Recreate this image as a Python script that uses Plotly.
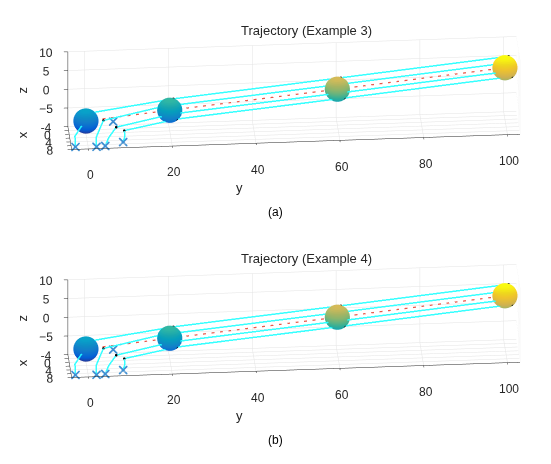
import numpy as np
import plotly.graph_objects as go

# reference path: sphere centres along the route
ref_x = [0.0, 0.0, 0.0, 0.0]
ref_y = [0.0, 20.0, 60.0, 100.0]
ref_z = [-6.6, -4.5, -0.4, 3.8]
sphere_r = 3.0
color_lim = [-9.6, 6.8]

# formation offsets of the four agents around the centre
off_x = [-2.0, 0.0, 2.0, 2.0]
off_y = [1.0, -2.0, 0.5, 1.5]
off_z = [2.0, 1.0, 0.0, -1.4]

# start positions (blue crosses) and the climb up to the formation
start_x = [6.7, 7.0, 6.7, 5.0]
start_y = [-3.0, 2.0, 4.1, 8.5]
start_z = [-10.0, -10.0, -10.0, -10.0]
climb_x = [[5.0, 0.0], [6.0, 2.0], [5.5, 3.0], [4.0, 2.0]]
climb_y = [[-3.0, 1.0], [2.0, 4.0], [5.0, 7.0], [9.0, 9.0]]
climb_z = [[-8.0, -4.5], [-8.0, -5.6], [-8.5, -7.0], [-9.0, -8.5]]

# extra cross near the start of the route
extra_x = [0.0]
extra_y = [6.5]
extra_z = [-7.0]

y_ticks = [0, 20, 40, 60, 80, 100]
z_ticks = [-5, 0, 5, 10]
x_ticks = [-4, -2, 0, 2, 4, 6, 8]
x_ticktext = ["-4", "", "0", "", "4", "", "8"]

titles = ["Trajectory (Example 3)", "Trajectory (Example 4)"]
captions = ["(a)", "(b)"]

parula = [[0.0, "#352A87"], [0.125, "#0363E1"], [0.25, "#1485D4"], [0.375, "#06A7C6"],
          [0.5, "#38B99E"], [0.625, "#92BF73"], [0.75, "#D9BA56"], [0.875, "#FCCE2E"],
          [1.0, "#F9FB0E"]]

txt = "#262626"
font = "Liberation Sans"

fig = go.Figure()

u, v = np.meshgrid(np.linspace(0, 2 * np.pi, 40), np.linspace(0, np.pi, 20))

for s, scn in enumerate(["scene", "scene2"]):
    # spheres
    for k in range(len(ref_y)):
        sx = ref_x[k] + sphere_r * np.cos(u) * np.sin(v)
        sy = ref_y[k] + sphere_r * np.sin(u) * np.sin(v)
        sz = ref_z[k] + sphere_r * np.cos(v)
        fig.add_trace(go.Surface(
            x=sx, y=sy, z=sz, surfacecolor=sz, colorscale=parula,
            cmin=color_lim[0], cmax=color_lim[1], showscale=False, opacity=1.0,
            lighting=dict(ambient=0.95, diffuse=0.1, specular=0.0, roughness=1.0, fresnel=0.0),
            hoverinfo="skip", scene=scn))

    # agent trajectories
    for a in range(len(start_x)):
        px = [start_x[a]] + climb_x[a] + [ref_x[k] + off_x[a] for k in range(1, 4)]
        py = [start_y[a]] + climb_y[a] + [ref_y[k] + off_y[a] for k in range(1, 4)]
        pz = [start_z[a]] + climb_z[a] + [ref_z[k] + off_z[a] for k in range(1, 4)]
        fig.add_trace(go.Scatter3d(
            x=px, y=py, z=pz, mode="lines",
            line=dict(color="rgba(30,235,245,0.9)", width=3),
            hoverinfo="skip", scene=scn))

    # reference path
    fig.add_trace(go.Scatter3d(
        x=ref_x, y=ref_y, z=ref_z, mode="lines",
        line=dict(color="#e8584a", width=2.5, dash="dash"),
        hoverinfo="skip", scene=scn))

    # agent positions at the sphere centres
    dx, dy, dz = [], [], []
    for a in range(len(start_x)):
        dx.append(climb_x[a][1])
        dy.append(climb_y[a][1])
        dz.append(climb_z[a][1])
        for k in range(1, 4):
            dx.append(ref_x[k] + off_x[a])
            dy.append(ref_y[k] + off_y[a])
            dz.append(ref_z[k] + off_z[a])
    fig.add_trace(go.Scatter3d(
        x=dx, y=dy, z=dz, mode="markers",
        marker=dict(color="black", size=1.5),
        hoverinfo="skip", scene=scn))

    # start crosses
    fig.add_trace(go.Scatter3d(
        x=start_x + extra_x, y=start_y + extra_y, z=start_z + extra_z,
        mode="markers",
        marker=dict(symbol="x", color="#3f8fd2", size=2),
        hoverinfo="skip", scene=scn))

axis_style = dict(
    showbackground=False, gridcolor="#e3e3e3", gridwidth=1,
    showline=True, linecolor=txt, linewidth=1,
    ticks="outside", ticklen=4, tickcolor=txt, tickangle=0,
    tickfont=dict(size=12, color=txt, family=font),
    zeroline=False, showspikes=False, title=dict(text=""),
)

# camera: look at a point a bit left of the box centre, eye placed relative to it
ang_el = np.radians(27)
ang_d = np.radians(4.3)
r = 2.0
look = dict(x=0.0, y=-0.176, z=0.0)
eye = dict(x=look["x"] + r * np.cos(ang_el) * np.cos(ang_d),
           y=look["y"] - r * np.cos(ang_el) * np.sin(ang_d),
           z=look["z"] + r * np.sin(ang_el))

span_x, span_y, span_z = 12.0, 107.0, 20.0
zoom = 5.45

lab_font = dict(size=13, color=txt, family=font)
tick_font = dict(size=12, color=txt, family=font)


def scene_layout(ydom):
    notes = [dict(text=str(t), x=8, y=t, z=-10, showarrow=False, xshift=2, yshift=-26, font=tick_font)
             for t in y_ticks]
    notes += [
        dict(text="y", x=8, y=35, z=-10, showarrow=False, xshift=4, yshift=-43, font=lab_font),
        dict(text="z", x=-4, y=-4, z=0, showarrow=False, xshift=-45, textangle=-90, font=lab_font),
        dict(text="x", x=2, y=-4, z=-10, showarrow=False, xshift=-47, yshift=4, textangle=-90, font=lab_font),
    ]
    return dict(
        domain=dict(x=[0.0, 0.9855], y=ydom),
        xaxis=dict(axis_style, range=[-4, 8], tickvals=x_ticks, ticktext=x_ticktext),
        yaxis=dict(axis_style, range=[-4, 103], tickvals=y_ticks, showticklabels=False),
        zaxis=dict(axis_style, range=[-10, 10], tickvals=z_ticks),
        aspectmode="manual",
        aspectratio=dict(x=zoom * span_x / span_y, y=zoom, z=zoom * span_z / span_y),
        camera=dict(eye=eye, up=dict(x=0, y=0, z=1), center=look,
                    projection=dict(type="orthographic")),
        annotations=notes,
    )


annotations = []
for i in range(2):
    off = i * 228
    annotations.append(dict(text=titles[i], x=(307 - 8) / 551, y=1 - (30 + off - 8) / 464,
                            xref="paper", yref="paper", yanchor="middle", xanchor="center",
                            showarrow=False, font=dict(size=13, color=txt, family=font)))
    annotations.append(dict(text=captions[i], x=(275 - 8) / 551, y=1 - (212 + off - 8) / 464,
                            xref="paper", yref="paper", yanchor="middle", xanchor="center",
                            showarrow=False, font=dict(size=12, color="black", family=font)))

fig.update_layout(
    width=551, height=464,
    margin=dict(l=0, r=0, t=0, b=0),
    paper_bgcolor="white",
    showlegend=False,
    scene=scene_layout([0.6371, 0.9931]),
    scene2=scene_layout([0.1457, 0.5017]),
    annotations=annotations,
)

fig.write_html("out.html")
